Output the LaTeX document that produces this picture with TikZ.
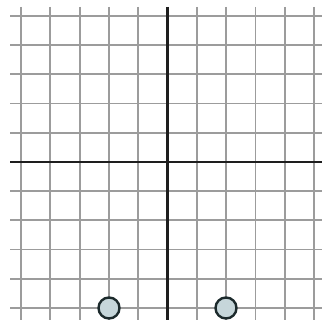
\documentclass[tikz,border=0pt]{standalone}
\definecolor{gridgray}{HTML}{9C9C9C}
\definecolor{axisdark}{HTML}{1E1E1E}
\definecolor{dotfill}{HTML}{C6D6DA}
\definecolor{dotedge}{HTML}{1C2A2C}
\tikzset{
  gridline/.style={draw=gridgray, line width=1.8pt},
  axisline/.style={draw=axisdark, line width=2.6pt},
  dot/.style={circle, minimum size=21pt, inner sep=0pt, fill=dotfill, draw=dotedge, line width=2.4pt}
}
\begin{document}
\begin{tikzpicture}[x=1pt,y=-1pt]
\useasboundingbox (0,0) rectangle (322,320);
\fill[white] (0,0) rectangle (322,320);
% vertical grid lines
\foreach \i in {0,1,2,3,4,6,7,8,9,10}
  \draw[gridline] ({21+29.3*\i},7) -- ({21+29.3*\i},322);
% horizontal grid lines
\foreach \j in {0,1,2,3,4,6,7,8,9,10}
  \draw[gridline] (10,{16+29.2*\j}) -- (324,{16+29.2*\j});
% axes
\draw[axisline] (167.5,7) -- (167.5,322);
\draw[axisline] (10,162) -- (324,162);
% points
\node[dot] (p1) at (109,308) {};
\node[dot] (p2) at (226,308) {};
\end{tikzpicture}
\end{document}
